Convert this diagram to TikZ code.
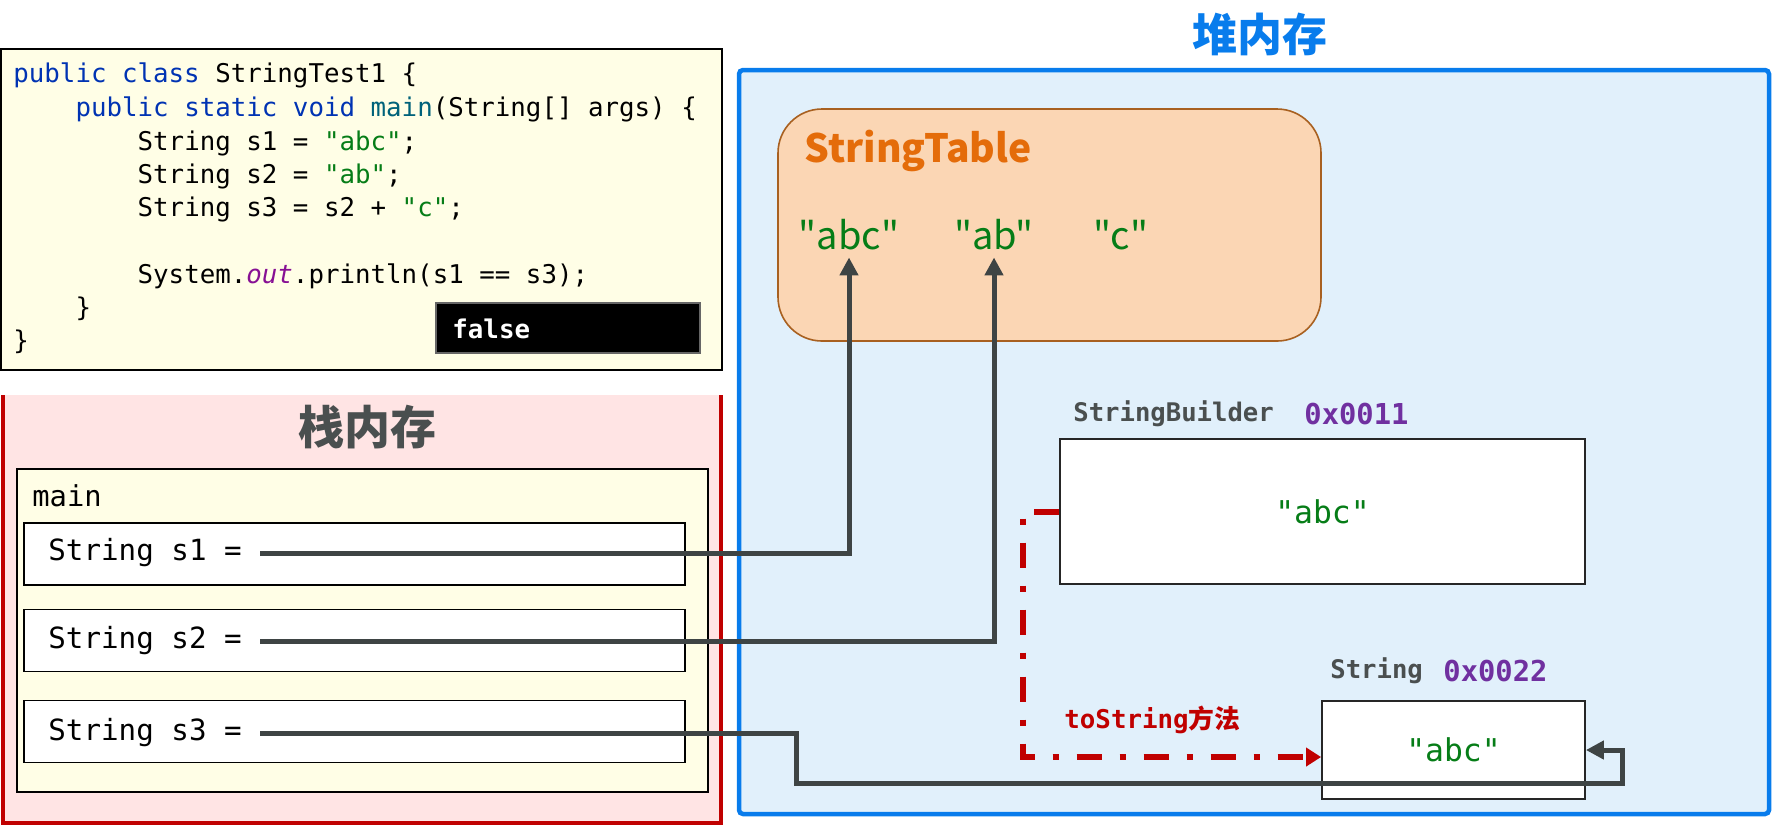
\documentclass[tikz,border=0pt]{standalone}
\usepackage{fontspec}
\setmonofont{DejaVu Sans Mono}
\newfontfamily\cjk{Noto Sans CJK SC}
\usepackage{xcolor}
\usetikzlibrary{arrows.meta,positioning,calc}

\definecolor{kwblue}{RGB}{0,51,179}
\definecolor{strgreen}{RGB}{6,125,23}
\definecolor{outpurple}{RGB}{135,16,148}
\definecolor{mainteal}{RGB}{0,98,122}
\definecolor{codebg}{RGB}{255,254,230}
\definecolor{stackbg}{RGB}{255,228,228}
\definecolor{stackred}{RGB}{192,0,0}
\definecolor{heapbg}{RGB}{225,240,251}
\definecolor{heapblue}{RGB}{8,124,236}
\definecolor{tablebg}{RGB}{251,214,180}
\definecolor{tableedge}{RGB}{168,96,32}
\definecolor{tableorange}{RGB}{228,108,10}
\definecolor{addrpurple}{RGB}{112,48,160}
\definecolor{labelgray}{RGB}{74,79,79}
\definecolor{linegray}{RGB}{62,68,68}

\newcommand{\ind}{\hphantom{0000}}

\tikzset{
  codeline/.style={anchor=west, inner sep=0pt, font=\ttfamily\fontsize{12.9}{15}\selectfont},
  varbox/.style={draw=black, fill=white, line width=0.9pt, minimum width=330.5pt, minimum height=31pt},
  vartext/.style={anchor=west, inner xsep=9pt, font=\ttfamily\fontsize{14.6}{17}\selectfont},
  objbox/.style={draw=black!85, fill=white, line width=0.9pt, text=strgreen, font=\ttfamily\fontsize{15.7}{18}\selectfont},
  objlabel/.style={anchor=west, inner sep=0pt, text=labelgray, font=\ttfamily\bfseries\fontsize{12.8}{15}\selectfont},
  addr/.style={anchor=west, inner sep=0pt, text=addrpurple, font=\ttfamily\bfseries\fontsize{14.4}{17}\selectfont},
  pooltext/.style={text=strgreen, font=\cjk\fontsize{19}{23}\selectfont},
  ref/.style={draw=linegray, line width=2.5pt, -{Triangle[width=9pt,length=9pt]}},
  tostr/.style={draw=stackred, line width=3pt, dash pattern=on 12.5pt off 9pt on 3pt off 9pt, -{Triangle[width=9pt,length=7.5pt]}}
}

\begin{document}
\begin{tikzpicture}[x=0.5pt, y=-0.5pt]
  \useasboundingbox (0,0) rectangle (1775,827);

  % Code
  \draw[fill=codebg, line width=1pt] (1,49) rectangle (722,370);
  \node[codeline] (code1) at (13,75) {{\color{kwblue}public class} StringTest1 \{};
  \node[codeline] (code2) at (13,109) {\ind{\color{kwblue}public static void} {\color{mainteal}main}(String[] args) \{};
  \node[codeline] (code3) at (13,143) {\ind\ind String s1 = {\color{strgreen}"abc"};};
  \node[codeline] (code4) at (13,176) {\ind\ind String s2 = {\color{strgreen}"ab"};};
  \node[codeline] (code5) at (13,209) {\ind\ind String s3 = s2 + {\color{strgreen}"c"};};
  \node[codeline] (code6) at (13,276) {\ind\ind System.{\color{outpurple}\itshape out}.println(s1 == s3);};
  \node[codeline] (code7) at (13,309) {\ind\}};
  \node[codeline] (code8) at (13,342) {\}};
  \node[fill=black, draw=black!60, line width=0.6pt, minimum width=132pt, minimum height=25pt] (falsebox) at (568,328) {};
  \node[codeline, text=white, font=\ttfamily\bfseries\fontsize{12.9}{15}\selectfont] (falsetxt) at (452,329) {false};

  % Stack
  \fill[stackbg] (3,395) rectangle (721,823);
  \draw[stackred, line width=2.25pt] (3,395) -- (3,823) -- (721,823) -- (721,395);
  \node[text=labelgray, font=\cjk\bfseries\fontsize{23}{27}\selectfont] (stacktitle) at (367,427) {栈内存};
  \draw[fill=codebg, line width=0.9pt] (17,469) rectangle (708,792);
  \node[anchor=west, inner sep=0pt, font=\ttfamily\fontsize{14.4}{17}\selectfont] (mainlbl) at (32,496) {main};
  \node[varbox] (s1box) at (354.5,554) {};
  \node[varbox] (s2box) at (354.5,640.5) {};
  \node[varbox] (s3box) at (354.5,731.5) {};
  \node[vartext] (s1) at (30,553) {String s1 =};
  \node[vartext] (s2) at (30,641) {String s2 =};
  \node[vartext] (s3) at (30,733) {String s3 =};

  % Heap
  \draw[fill=heapbg, draw=heapblue, line width=2.25pt, rounded corners=2pt] (739,70) rectangle (1769,814);
  \node[text=heapblue, font=\cjk\bfseries\fontsize{22.5}{27}\selectfont] (heaptitle) at (1260,34) {堆内存};

  % StringTable
  \draw[fill=tablebg, draw=tableedge, line width=0.8pt, rounded corners=22pt] (778,109) rectangle (1321,341);
  \node[anchor=west, inner sep=0pt, text=tableorange, font=\cjk\bfseries\fontsize{19.5}{23}\selectfont] (tablelbl) at (804,151) {StringTable};
  \node[pooltext] (tabc) at (849,235) {"abc"};
  \node[pooltext] (tab) at (994,235) {"ab"};
  \node[pooltext] (tc) at (1121,235) {"c"};

  % Objects
  \node[objlabel] (sblbl) at (1073,414) {StringBuilder};
  \node[addr] (sbaddr) at (1304,414) {0x0011};
  \node[objbox, minimum width=262.5pt, minimum height=72.5pt] (sb) at (1322.5,511.5) {"abc"};
  \node[objlabel] (strlbl) at (1330,671) {String};
  \node[addr] (straddr) at (1443,671) {0x0022};
  \node[objbox, minimum width=131.5pt, minimum height=49pt] (str) at (1453.5,750) {"abc"};

  % References
  \coordinate (s3bend) at (796,783);
  \coordinate (strloop) at (1622,783);
  \draw[ref] (s1.east) -| (tabc.south);
  \draw[ref] (s2.east) -| (tab.south);
  \draw[ref] (s3.east) -| (s3bend) -- (strloop) |- (str.east);

  \draw[tostr] (sb.west) -- ++(-36,0) |- ([yshift=-3.5pt]str.west);
  \node[anchor=west, inner sep=0pt, text=stackred, font=\ttfamily\bfseries\fontsize{12.9}{15}\selectfont] (tostrlbl) at (1064,720) {toString{\cjk 方法}};
\end{tikzpicture}
\end{document}
